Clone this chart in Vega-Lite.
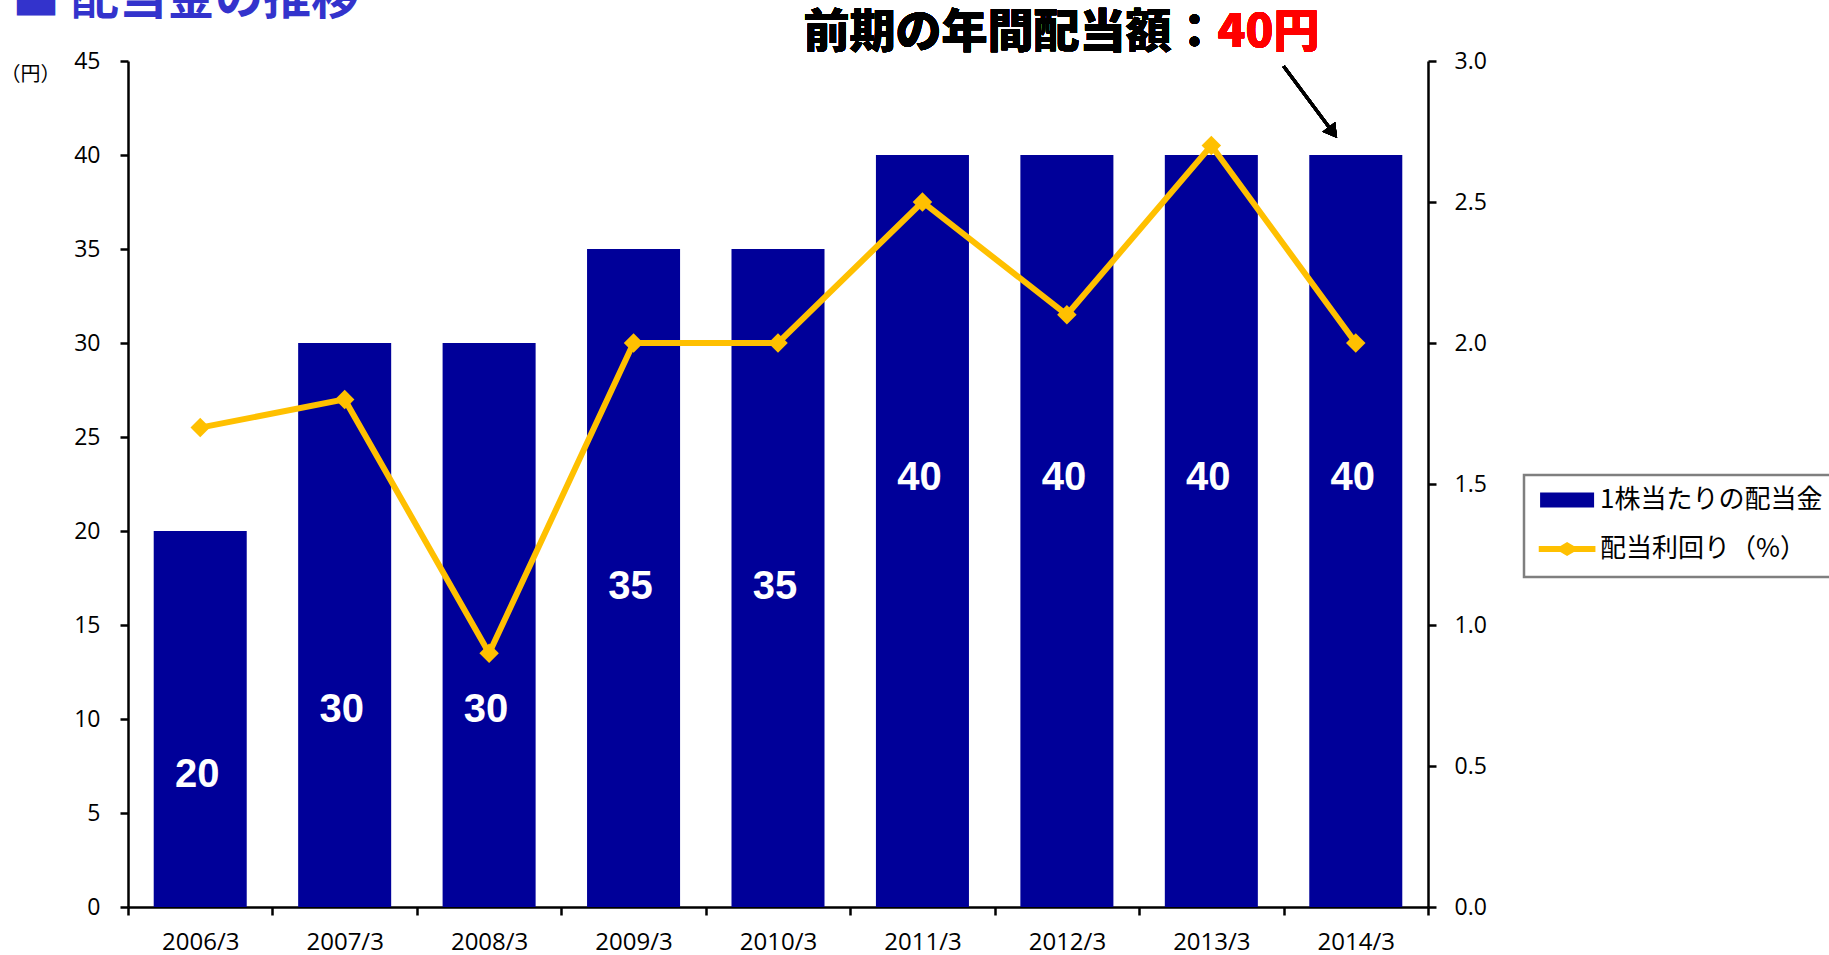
{
  "$schema": "https://vega.github.io/schema/vega-lite/v6.json",
  "autosize": {"type": "none"},
  "padding": {"left": 128, "top": 61, "right": 401, "bottom": 48},
  "width": 1300,
  "height": 846,
  "background": "white",
  "title": {
    "text": "■ 配当金の推移",
    "anchor": "start",
    "frame": "group",
    "dx": -116,
    "dy": 72,
    "offset": 20,
    "baseline": "alphabetic",
    "font": "Noto Sans CJK JP",
    "fontSize": 48,
    "fontWeight": "bold",
    "color": "#3333CC"
  },
  "data": {
    "values": [
      {"year": "2006/3", "dividend": 20, "yield": 1.7, "labelAt": 7.0},
      {"year": "2007/3", "dividend": 30, "yield": 1.8, "labelAt": 10.5},
      {"year": "2008/3", "dividend": 30, "yield": 0.9, "labelAt": 10.5},
      {"year": "2009/3", "dividend": 35, "yield": 2.0, "labelAt": 17.0},
      {"year": "2010/3", "dividend": 35, "yield": 2.0, "labelAt": 17.0},
      {"year": "2011/3", "dividend": 40, "yield": 2.5, "labelAt": 22.8},
      {"year": "2012/3", "dividend": 40, "yield": 2.1, "labelAt": 22.8},
      {"year": "2013/3", "dividend": 40, "yield": 2.7, "labelAt": 22.8},
      {"year": "2014/3", "dividend": 40, "yield": 2.0, "labelAt": 22.8}
    ]
  },
  "layer": [
    {
      "layer": [
        {
          "mark": {"type": "bar", "width": {"band": 0.644}, "color": "#000099"},
          "encoding": {
            "x": {
              "field": "year",
              "type": "nominal",
              "scale": {"paddingInner": 0, "paddingOuter": 0},
              "axis": {
                "title": null,
                "labelAngle": 0,
                "tickBand": "extent",
                "labelFont": "Open Sans",
                "labelFontSize": 24,
                "labelBaseline": "middle",
                "labelPadding": 27,
                "labelColor": "black"
              }
            },
            "y": {
              "field": "dividend",
              "type": "quantitative",
              "scale": {"domain": [0, 45], "nice": false},
              "axis": {
                "title": "（円）",
                "titleAngle": 0,
                "titleX": -128,
                "titleY": 13,
                "titleAlign": "left",
                "titleBaseline": "middle",
                "titleFont": "Noto Sans CJK JP",
                "titleFontSize": 20,
                "titleFontWeight": "normal",
                "titleColor": "black",
                "values": [0, 5, 10, 15, 20, 25, 30, 35, 40, 45],
                "grid": false,
                "labelFont": "Open Sans",
                "labelFontSize": 23,
                "labelPadding": 20,
                "labelColor": "black"
              }
            },
            "color": {
              "datum": "1株当たりの配当金",
              "scale": {"domain": ["1株当たりの配当金", "配当利回り（%）"], "range": ["#000099", "#FFC000"]},
              "legend": {
                "orient": "none",
                "legendX": 1396,
                "legendY": 414,
                "title": null,
                "strokeColor": "#7f7f7f",
                "padding": 12,
                "labelFont": "Noto Sans CJK JP",
                "labelFontSize": 26,
                "labelColor": "black",
                "labelLimit": 600,
                "labelOffset": 38,
                "rowPadding": 20,
                "symbolSize": 2916,
                "symbolStrokeWidth": 5,
                "encode": {
                  "legend": {"update": {"strokeWidth": {"value": 2.5}}},
                  "symbols": {
                    "update": {
                      "shape": {"signal": "datum.value === '1株当たりの配当金' ? 'M-0.33,-0.28H1.67V0.28H-0.33Z' : 'M-0.38,0H1.72M0.45,0L0.67,-0.13L0.89,0L0.67,0.13Z'"},
                      "fill": {"signal": "datum.value === '1株当たりの配当金' ? '#000099' : '#FFC000'"},
                      "stroke": {"signal": "datum.value === '1株当たりの配当金' ? 'transparent' : '#FFC000'"},
                      "strokeWidth": {"signal": "datum.value === '1株当たりの配当金' ? 0 : 6"},
                      "opacity": {"value": 1},
                      "fillOpacity": {"value": 1},
                      "size": {"value": 2916}
                    }
                  }
                }
              }
            }
          }
        },
        {
          "mark": {"type": "text", "font": "Liberation Sans", "fontWeight": "bold", "fontSize": 40, "color": "white", "baseline": "middle", "align": "center", "dx": -3},
          "encoding": {
            "x": {"field": "year", "type": "nominal"},
            "y": {"field": "labelAt", "type": "quantitative"},
            "text": {"field": "dividend", "type": "quantitative"}
          }
        },
        {
          "mark": {"type": "rule", "color": "black", "strokeWidth": 3},
          "encoding": {
            "x": {"datum": "2014/3", "bandPosition": 0},
            "x2": {"datum": "2014/3", "bandPosition": 0.342},
            "y": {"datum": 44.73},
            "y2": {"datum": 41.2}
          }
        },
        {
          "mark": {"type": "point", "shape": "triangle-down", "filled": true, "color": "black", "size": 256, "angle": 323, "opacity": 1},
          "encoding": {
            "x": {"datum": "2014/3", "bandPosition": 0.342},
            "y": {"datum": 41.2}
          }
        },
        {
          "mark": {"type": "text", "font": "Noto Sans CJK JP", "fontWeight": 900, "fontSize": 46, "color": "black", "align": "right", "baseline": "middle"},
          "encoding": {
            "x": {"datum": "2013/3", "bandPosition": 0.543},
            "y": {"datum": 46.5},
            "text": {"value": "前期の年間配当額："}
          }
        },
        {
          "mark": {"type": "text", "font": "Noto Sans CJK JP", "fontWeight": 900, "fontSize": 46, "color": "#FF0000", "align": "left", "baseline": "middle"},
          "encoding": {
            "x": {"datum": "2013/3", "bandPosition": 0.543},
            "y": {"datum": 46.5},
            "text": {"value": "40円"}
          }
        }
      ]
    },
    {
      "layer": [
        {
          "mark": {"type": "line", "strokeWidth": 6},
          "encoding": {
            "x": {"field": "year", "type": "nominal"},
            "y": {
              "field": "yield",
              "type": "quantitative",
              "scale": {"domain": [0, 3], "nice": false},
              "axis": {
                "orient": "right",
                "title": null,
                "values": [0, 0.5, 1, 1.5, 2, 2.5, 3],
                "format": ".1f",
                "grid": false,
                "labelFont": "Open Sans",
                "labelFontSize": 23,
                "labelPadding": 18,
                "labelColor": "black"
              }
            },
            "color": {"datum": "配当利回り（%）"}
          }
        },
        {
          "mark": {"type": "point", "shape": "diamond", "filled": true, "color": "#FFC000", "size": 380, "opacity": 1},
          "encoding": {
            "x": {"field": "year", "type": "nominal"},
            "y": {"field": "yield", "type": "quantitative"}
          }
        }
      ]
    }
  ],
  "resolve": {"scale": {"y": "independent"}, "axis": {"y": "independent"}},
  "config": {
    "view": {"stroke": null},
    "axis": {
      "domainColor": "black",
      "domainWidth": 2.5,
      "tickColor": "black",
      "tickWidth": 2.5,
      "tickSize": 8,
      "labelFontWeight": "normal"
    }
  }
}
